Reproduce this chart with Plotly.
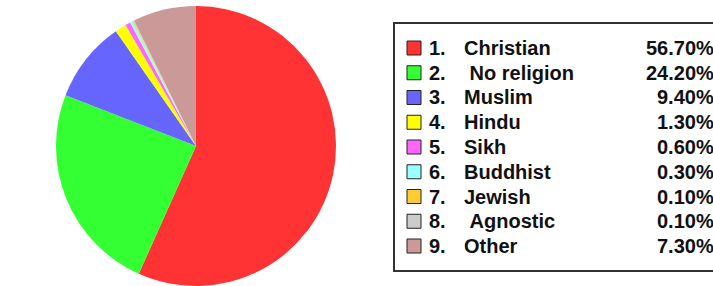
import plotly.graph_objects as go

labels = ["Christian", "No religion", "Muslim", "Hindu", "Sikh", "Buddhist", "Jewish", "Agnostic", "Other"]
values = [56.7, 24.2, 9.4, 1.3, 0.6, 0.3, 0.1, 0.1, 7.3]
value_text = ["56.70%", "24.20%", "9.40%", "1.30%", "0.60%", "0.30%", "0.10%", "0.10%", "7.30%"]
name_text = ["Christian", "\u00a0No religion", "Muslim", "Hindu", "Sikh", "Buddhist", "Jewish", "\u00a0Agnostic", "Other"]
colors = ["#FF3333", "#33FF33", "#6666FF", "#FFFF00", "#FF66FF", "#99FFFF", "#FFCC33", "#CCCCCC", "#CC9999"]

W, H = 713, 286

def px(x):
    return x / W

def py(y):
    return 1 - y / H

fig = go.Figure()
fig.add_trace(go.Pie(
    labels=labels, values=values, sort=False, direction="clockwise", rotation=0,
    marker=dict(colors=colors, line=dict(width=0)),
    textinfo="none", hoverinfo="label+percent", showlegend=False,
    domain=dict(x=[px(196 - 140), px(196 + 140)], y=[0, py(6)]),
))

shapes = [dict(type="rect", xref="paper", yref="paper",
               x0=px(394), x1=px(730), y0=py(271), y1=py(23),
               line=dict(color="#333333", width=2), fillcolor="rgba(0,0,0,0)")]
annotations = []
font = dict(family="Liberation Sans, Arial, sans-serif", size=20, color="#111111")
for i, lab in enumerate(labels):
    yc = 48 + 24.75 * i
    shapes.append(dict(type="rect", xref="paper", yref="paper",
                       x0=px(407), x1=px(421), y0=py(yc + 7), y1=py(yc - 7),
                       fillcolor=colors[i], line=dict(color="#222222", width=1)))
    annotations.append(dict(xref="paper", yref="paper", x=px(427), y=py(yc),
                            xanchor="left", yanchor="middle", showarrow=False,
                            text="<b>%d.</b>" % (i + 1), font=font))
    annotations.append(dict(xref="paper", yref="paper", x=px(462), y=py(yc),
                            xanchor="left", yanchor="middle", showarrow=False,
                            text="<b>%s</b>" % name_text[i], font=font))
    annotations.append(dict(xref="paper", yref="paper", x=px(716), y=py(yc),
                            xanchor="right", yanchor="middle", showarrow=False,
                            text="<b>%s</b>" % value_text[i], font=font))

fig.update_layout(width=W, height=H, margin=dict(l=0, r=0, t=0, b=0),
                  paper_bgcolor="white", plot_bgcolor="white",
                  shapes=shapes, annotations=annotations)
fig.write_html("out.html", config={"displayModeBar": False},
               post_script="document.body.style.margin='0';")
